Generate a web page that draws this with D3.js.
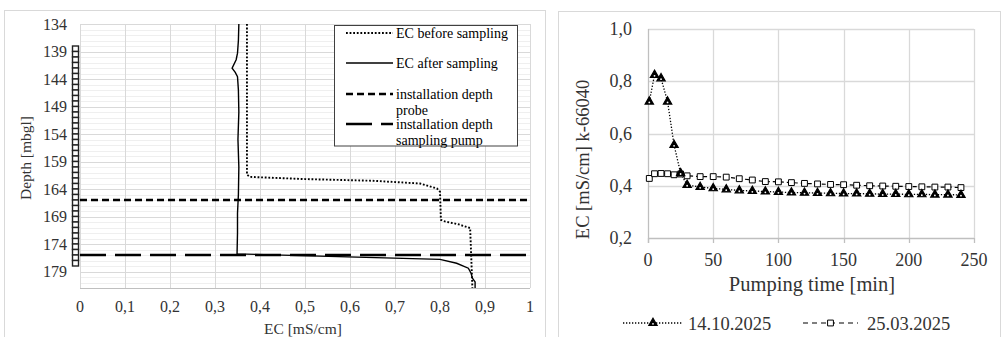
<!DOCTYPE html>
<html>
<head>
<meta charset="utf-8">
<script src="https://cdn.jsdelivr.net/npm/d3@7"></script>
<style>
  body { margin: 0; background: #fff; }
  text { font-family: "Liberation Serif", serif; fill: #333; }
</style>
</head>
<body>
<div id="chart"></div>
<script>
// left chart: EC depth profile
const beforeDepth = [134, 161.4, 161.8, 162.2, 162.5, 163.0, 163.9, 164.5, 169.6, 169.9, 170.4, 171.1, 182];
const beforeEc = [0.371, 0.371, 0.378, 0.5, 0.65, 0.756, 0.793, 0.8, 0.802, 0.811, 0.84, 0.867, 0.872];
const afterDepth = [134, 137, 139.3, 140.5, 142.05, 142.8, 143.6, 146, 150, 155, 160, 165, 168.4, 172, 175.8, 176.8, 177.5, 178.4, 179.3, 180.2, 180.9, 182];
const afterEc = [0.353, 0.352, 0.35, 0.347, 0.338, 0.345, 0.35, 0.352, 0.353, 0.351, 0.353, 0.352, 0.35, 0.35, 0.349, 0.8, 0.837, 0.863, 0.869, 0.872, 0.878, 0.878];
const probeDepth = 166;
const pumpDepth = 176;
const screenRange = [138, 178];
const depthTicks = [134, 139, 144, 149, 154, 159, 164, 169, 174, 179];
const ecTicks = [0, 0.1, 0.2, 0.3, 0.4, 0.5, 0.6, 0.7, 0.8, 0.9, 1];
const legendLabels = [['EC before sampling'], ['EC after sampling'], ['installation depth', 'probe'], ['installation depth', 'sampling pump']];

// right chart: EC while pumping
const pumpTime = [1, 5, 10, 15, 20, 25, 30, 40, 50, 60, 70, 80, 90, 100, 110, 120, 130, 140, 150, 160, 170, 180, 190, 200, 210, 220, 230, 240];
const ecOct = [0.722, 0.824, 0.811, 0.722, 0.556, 0.448, 0.403, 0.395, 0.39, 0.386, 0.382, 0.38, 0.378, 0.376, 0.374, 0.373, 0.372, 0.371, 0.37, 0.37, 0.369, 0.368, 0.368, 0.367, 0.367, 0.366, 0.366, 0.365];
const ecMar = [0.428, 0.446, 0.447, 0.446, 0.442, 0.445, 0.438, 0.435, 0.435, 0.433, 0.427, 0.422, 0.416, 0.415, 0.412, 0.409, 0.407, 0.405, 0.404, 0.402, 0.4, 0.399, 0.398, 0.397, 0.396, 0.395, 0.395, 0.393];
const timeTicks = [0, 50, 100, 150, 200, 250];
const ecRightTicks = [0.2, 0.4, 0.6, 0.8, 1.0];
const seriesNames = ['14.10.2025', '25.03.2025'];

const loc = d3.formatLocale({ decimal: ',', thousands: '.', grouping: [3], currency: ['', ''] });
const fmtShort = loc.format('~g');
const fmtOne = loc.format('.1f');

const svg = d3.select('#chart').append('svg')
  .attr('width', 1004)
  .attr('height', 337);

// frames
svg.append('rect').attr('x', 4.5).attr('y', 10.5).attr('width', 541).attr('height', 340)
  .attr('fill', 'none').attr('stroke', '#d9d9d9');
svg.append('rect').attr('x', 558.5).attr('y', 11.5).attr('width', 442).attr('height', 340)
  .attr('fill', 'none').attr('stroke', '#d9d9d9');

// ---------- left chart ----------
const x1 = d3.scaleLinear().domain([0, 1]).range([80, 530]);
const y1 = d3.scaleLinear().domain([134, 182]).range([24, 288]);
const g1 = svg.append('g');

// minor horizontal grid every metre
g1.append('g').selectAll('line')
  .data(d3.range(135, 182).filter(d => !depthTicks.includes(d)))
  .enter().append('line')
  .attr('x1', x1(0)).attr('x2', x1(1))
  .attr('y1', d => Math.round(y1(d)) + 0.5).attr('y2', d => Math.round(y1(d)) + 0.5)
  .attr('stroke', '#efefef');

g1.append('g').selectAll('line')
  .data(depthTicks)
  .enter().append('line')
  .attr('x1', x1(0)).attr('x2', x1(1))
  .attr('y1', d => Math.round(y1(d)) + 0.5).attr('y2', d => Math.round(y1(d)) + 0.5)
  .attr('stroke', '#d9d9d9');

g1.append('g').selectAll('line')
  .data(ecTicks)
  .enter().append('line')
  .attr('x1', d => Math.round(x1(d)) + 0.5).attr('x2', d => Math.round(x1(d)) + 0.5)
  .attr('y1', y1(134)).attr('y2', y1(182))
  .attr('stroke', '#d9d9d9');

g1.append('line')
  .attr('x1', x1(0)).attr('x2', x1(1))
  .attr('y1', y1(182) + 0.5).attr('y2', y1(182) + 0.5)
  .attr('stroke', '#bfbfbf');

g1.append('g').selectAll('text')
  .data(depthTicks)
  .enter().append('text')
  .attr('x', 67).attr('y', d => y1(d) + 5.5)
  .attr('text-anchor', 'end')
  .style('font-size', '16px')
  .text(d => d);

g1.append('g').selectAll('text')
  .data(ecTicks)
  .enter().append('text')
  .attr('x', d => x1(d)).attr('y', 312)
  .attr('text-anchor', 'middle')
  .style('font-size', '16px')
  .text(d => fmtShort(d));

g1.append('text')
  .attr('transform', `translate(31,${(y1(134) + y1(182)) / 2 + 2}) rotate(-90)`)
  .attr('text-anchor', 'middle')
  .style('font-size', '15.5px')
  .text('Depth [mbgl]');

g1.append('text')
  .attr('x', 303).attr('y', 334)
  .attr('text-anchor', 'middle')
  .style('font-size', '15.5px')
  .text('EC [mS/cm]');

// well screen
g1.append('g').selectAll('rect')
  .data(d3.range(screenRange[0], screenRange[1]))
  .enter().append('rect')
  .attr('x', 72.5).attr('width', 6)
  .attr('y', d => y1(d)).attr('height', d => y1(d + 1) - y1(d))
  .attr('fill', '#fff').attr('stroke', '#222').attr('stroke-width', 1.4);

const lineLeft = d3.line().x(d => x1(d[0])).y(d => y1(d[1]));
const styles = [
  { dash: '1.8 1.8', w: 1.9 },
  { dash: null, w: 1.4 },
  { dash: '7 4', w: 2.5 },
  { dash: '26 9', w: 2.5 }
];

g1.append('path')
  .datum(beforeEc.map((v, i) => [v, beforeDepth[i]]))
  .attr('d', lineLeft)
  .attr('fill', 'none').attr('stroke', '#000')
  .attr('stroke-width', styles[0].w).attr('stroke-dasharray', styles[0].dash);

g1.append('path')
  .datum(afterEc.map((v, i) => [v, afterDepth[i]]))
  .attr('d', lineLeft)
  .attr('fill', 'none').attr('stroke', '#000')
  .attr('stroke-width', styles[1].w);

[probeDepth, pumpDepth].forEach((d, i) => {
  g1.append('line')
    .attr('x1', x1(0)).attr('x2', x1(1))
    .attr('y1', y1(d)).attr('y2', y1(d))
    .attr('stroke', '#000')
    .attr('stroke-width', styles[i + 2].w)
    .attr('stroke-dasharray', styles[i + 2].dash);
});

// legend
const leg1 = g1.append('g');
leg1.append('rect').attr('x', 334.5).attr('y', 25.5).attr('width', 183).attr('height', 120.5)
  .attr('fill', '#fff').attr('stroke', '#404040');
const legY = [33, 63, 94, 124];
legendLabels.forEach((lines, i) => {
  leg1.append('line')
    .attr('x1', 346).attr('x2', 393)
    .attr('y1', legY[i]).attr('y2', legY[i])
    .attr('stroke', '#000')
    .attr('stroke-width', styles[i].w)
    .attr('stroke-dasharray', styles[i].dash);
  lines.forEach((t, j) => {
    leg1.append('text')
      .attr('x', 396).attr('y', legY[i] + 5 + j * 16)
      .style('font-size', '14px')
      .style('fill', '#000')
      .text(t);
  });
});

// ---------- right chart ----------
const x2 = d3.scaleLinear().domain([0, 250]).range([648, 974]);
const y2 = d3.scaleLinear().domain([0.2, 1.0]).range([238, 29]);
const g2 = svg.append('g');

g2.append('g').selectAll('line')
  .data(ecRightTicks.slice(1))
  .enter().append('line')
  .attr('x1', x2(0)).attr('x2', x2(250))
  .attr('y1', d => Math.round(y2(d)) + 0.5).attr('y2', d => Math.round(y2(d)) + 0.5)
  .attr('stroke', '#d9d9d9').attr('stroke-width', 1.3);

g2.append('g').selectAll('line')
  .data(timeTicks.slice(1))
  .enter().append('line')
  .attr('x1', d => Math.round(x2(d)) + 0.5).attr('x2', d => Math.round(x2(d)) + 0.5)
  .attr('y1', y2(1)).attr('y2', y2(0.2))
  .attr('stroke', '#d9d9d9').attr('stroke-width', 1.3);

// axes lines with ticks
g2.append('line')
  .attr('x1', x2(0) + 0.5).attr('x2', x2(0) + 0.5)
  .attr('y1', y2(1)).attr('y2', y2(0.2) + 5)
  .attr('stroke', '#bfbfbf').attr('stroke-width', 1.3);
g2.append('line')
  .attr('x1', x2(0)).attr('x2', x2(250))
  .attr('y1', y2(0.2) + 0.5).attr('y2', y2(0.2) + 0.5)
  .attr('stroke', '#bfbfbf').attr('stroke-width', 1.3);
g2.append('g').selectAll('line')
  .data(timeTicks)
  .enter().append('line')
  .attr('x1', d => Math.round(x2(d)) + 0.5).attr('x2', d => Math.round(x2(d)) + 0.5)
  .attr('y1', y2(0.2)).attr('y2', y2(0.2) + 5)
  .attr('stroke', '#bfbfbf').attr('stroke-width', 1.3);

g2.append('g').selectAll('text')
  .data(ecRightTicks)
  .enter().append('text')
  .attr('x', 632).attr('y', d => y2(d) + 6)
  .attr('text-anchor', 'end')
  .style('font-size', '18px')
  .text(d => fmtOne(d));

g2.append('g').selectAll('text')
  .data(timeTicks)
  .enter().append('text')
  .attr('x', d => x2(d)).attr('y', 266)
  .attr('text-anchor', 'middle')
  .style('font-size', '18px')
  .text(d => d);

g2.append('text')
  .attr('x', (x2(0) + x2(250)) / 2 + 1).attr('y', 291)
  .attr('text-anchor', 'middle')
  .style('font-size', '20.5px')
  .text('Pumping time [min]');

g2.append('text')
  .attr('transform', `translate(589,${(y2(1) + y2(0.2)) / 2 + 26}) rotate(-90)`)
  .attr('text-anchor', 'middle')
  .style('font-size', '18.5px')
  .text('EC [mS/cm] k-66040');

const lineRight = d3.line().x(d => x2(d[0])).y(d => y2(d[1]));
const triangle = d3.symbol().type(d3.symbolTriangle).size(30);
const square = d3.symbol().type(d3.symbolSquare).size(34);

const drawMarkers = (sel, kind) => {
  if (kind === 'tri') {
    sel.append('path').attr('d', triangle).attr('fill', '#000')
      .attr('stroke', '#000').attr('stroke-width', 1.2);
    sel.append('circle').attr('r', 0.9).attr('cy', 0.8).attr('fill', '#fff');
  } else {
    sel.append('path').attr('d', square).attr('fill', '#fff')
      .attr('stroke', '#000').attr('stroke-width', 1);
  }
};

// 25.03.2025 (dashed, squares)
g2.append('path')
  .datum(pumpTime.map((t, i) => [t, ecMar[i]]))
  .attr('d', lineRight)
  .attr('fill', 'none').attr('stroke', '#000')
  .attr('stroke-width', 1.2).attr('stroke-dasharray', '4 3');

// 14.10.2025 (dotted, triangles)
g2.append('path')
  .datum(pumpTime.map((t, i) => [t, ecOct[i]]))
  .attr('d', lineRight)
  .attr('fill', 'none').attr('stroke', '#000')
  .attr('stroke-width', 1.3).attr('stroke-dasharray', '1.3 1.7');

g2.append('g').selectAll('g')
  .data(pumpTime.map((t, i) => [t, ecMar[i]]))
  .enter().append('g')
  .attr('transform', d => `translate(${x2(d[0])},${y2(d[1])})`)
  .call(drawMarkers, 'sq');

g2.append('g').selectAll('g')
  .data(pumpTime.map((t, i) => [t, ecOct[i]]))
  .enter().append('g')
  .attr('transform', d => `translate(${x2(d[0])},${y2(d[1])})`)
  .call(drawMarkers, 'tri');

// bottom legend
const leg2 = g2.append('g');
const legItems = [
  { x0: 623, x1: 683, tx: 688, kind: 'tri', dash: '1.3 1.7', w: 1.3 },
  { x0: 803, x1: 858, tx: 867, kind: 'sq', dash: '5 4', w: 1.2 }
];
legItems.forEach((it, i) => {
  leg2.append('line')
    .attr('x1', it.x0).attr('x2', it.x1).attr('y1', 323).attr('y2', 323)
    .attr('stroke', '#000').attr('stroke-width', it.w).attr('stroke-dasharray', it.dash);
  leg2.append('g')
    .attr('transform', `translate(${(it.x0 + it.x1) / 2},323)`)
    .call(drawMarkers, it.kind);
  leg2.append('text')
    .attr('x', it.tx).attr('y', 329.5)
    .style('font-size', '18.5px')
    .text(seriesNames[i]);
});
</script>
</body>
</html>
